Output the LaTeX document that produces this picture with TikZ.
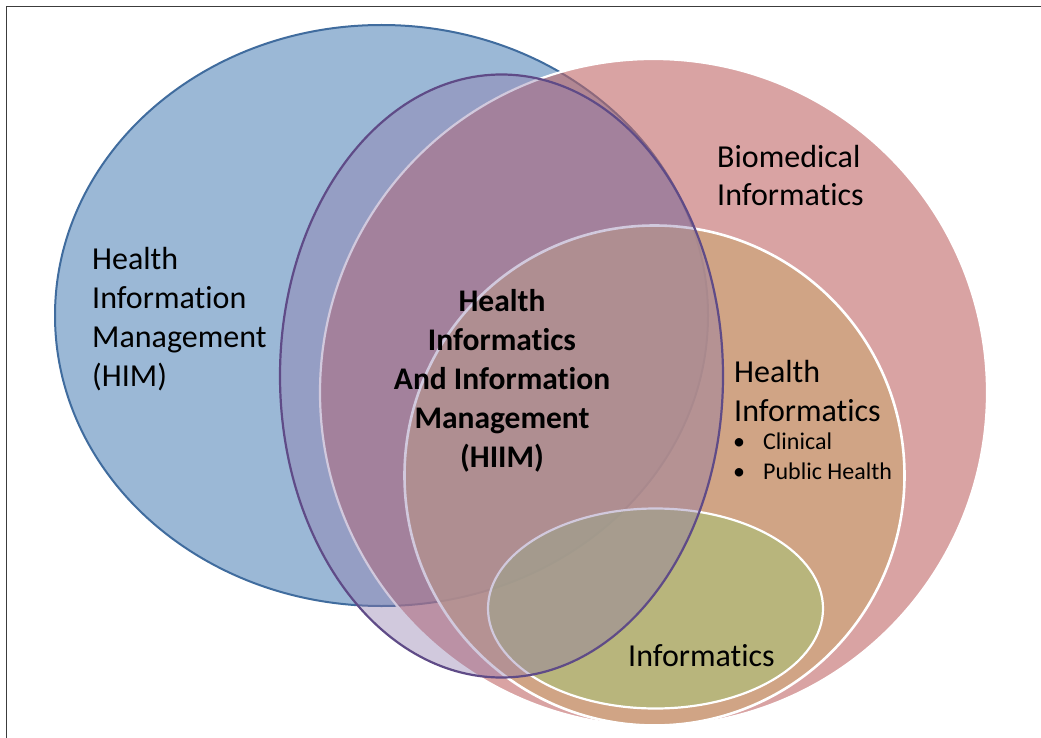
\documentclass[tikz,border=0pt]{standalone}
\usepackage{fontspec}
\setmainfont{Carlito}[Ligatures={NoCommon}]
\definecolor{himfill}{RGB}{155,184,214}
\definecolor{himedge}{RGB}{64,108,158}
\definecolor{biofill}{RGB}{192,103,103}
\definecolor{hifill}{RGB}{205,165,123}
\definecolor{infill}{RGB}{168,193,118}
\definecolor{hiimfill}{RGB}{142,120,170}
\definecolor{hiimedge}{RGB}{95,75,135}
\definecolor{framec}{RGB}{60,60,60}
\tikzset{
  bigtext/.style={align=left, inner sep=0pt, font=\fontsize{32}{38.7}\selectfont},
  boldtext/.style={align=center, inner sep=0pt, font=\fontsize{31.5}{39}\selectfont\bfseries},
  smalltext/.style={align=left, inner sep=0pt, font=\fontsize{24}{30}\selectfont},
  whiteedge/.style={draw=white, line width=2.2pt}
}
\begin{document}
\begin{tikzpicture}[x=1pt,y=-1pt]
\useasboundingbox (0,0) rectangle (1041,738);
\fill[white] (0,0) rectangle (1041,738);
\draw[framec, line width=1.6pt] (1041,6.5) -- (6.5,6.5) -- (6.5,738);
% HIM
\filldraw[fill=himfill, draw=himedge, line width=2pt] (381.5,315.5) ellipse [x radius=326.5pt, y radius=290.5pt];
% Biomedical informatics
\fill[biofill, fill opacity=0.6] (653.5,392.5) circle [radius=333.5pt];
\draw[whiteedge] (653.5,392.5) circle [radius=333.5pt];
% Health informatics
\fill[hifill, fill opacity=0.75] (654.5,475.5) circle [radius=250pt];
\draw[whiteedge, line width=2.6pt] (654.5,475.5) circle [radius=250pt];
% Informatics
\fill[infill, fill opacity=0.6] (655.5,608.5) ellipse [x radius=167.5pt, y radius=100pt];
\draw[whiteedge] (655.5,608.5) ellipse [x radius=167.5pt, y radius=100pt];
% HIIM
\fill[hiimfill, fill opacity=0.4] (501.5,376) ellipse [x radius=221.5pt, y radius=301.5pt];
\draw[hiimedge, line width=2.2pt] (501.5,376) ellipse [x radius=221.5pt, y radius=301.5pt];
% texts (base anchor = baseline of last line)
\node[bigtext, anchor=base west] (him) at (92,386) {Health\\Information\\Management\\(HIM)};
\node[bigtext, anchor=base west] (bio) at (717,206) {Biomedical\\Informatics};
\node[bigtext, anchor=base west] (hi) at (734,421) {Health\\Informatics};
\node[smalltext, anchor=base west] (hibul) at (733,479) {\makebox[30pt][l]{•}Clinical\\\makebox[30pt][l]{•}Public Health};
\node[boldtext, anchor=base] (hiim) at (502,467) {Health\\Informatics\\And Information\\Management\\(HIIM)};
\node[bigtext, anchor=base west] (inf) at (628,666) {Informatics};
\end{tikzpicture}
\end{document}
